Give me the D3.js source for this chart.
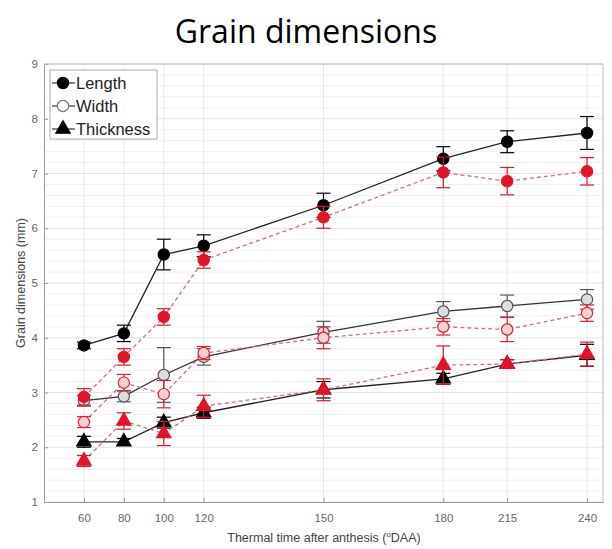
<!DOCTYPE html>
<html>
<head>
<meta charset="utf-8">
<script src="https://cdn.jsdelivr.net/npm/d3@7"></script>
<style>
  body { margin: 0; background: #fff; }
  #chart text { font-family: "Liberation Sans", Arial, sans-serif; }
  #chart .title { font-family: "Open Sans", "Lato", sans-serif; }
</style>
</head>
<body>
<div id="chart"></div>
<script>
//Values
const xLabels = ["60", "80", "100", "120", "150", "180", "215", "240"]
const xPos = [10, 20, 30, 40, 70, 100, 116, 136]
const yTicks = [1, 2, 3, 4, 5, 6, 7, 8, 9]

const lengthBlack = [3.86, 4.08, 5.52, 5.68, 6.42, 7.27, 7.58, 7.74]
const lengthBlackErr = [0.06, 0.15, 0.28, 0.2, 0.22, 0.22, 0.2, 0.3]
const lengthRed = [2.92, 3.65, 4.38, 5.42, 6.2, 7.02, 6.86, 7.04]
const lengthRedErr = [0.15, 0.15, 0.15, 0.15, 0.2, 0.28, 0.25, 0.25]

const widthBlack = [2.85, 2.93, 3.32, 3.65, 4.1, 4.48, 4.58, 4.7]
const widthBlackErr = [0.1, 0.1, 0.5, 0.15, 0.2, 0.18, 0.2, 0.18]
const widthRed = [2.46, 3.18, 2.97, 3.72, 4.0, 4.2, 4.15, 4.45]
const widthRedErr = [0.1, 0.15, 0.25, 0.12, 0.2, 0.15, 0.22, 0.15]

const thickBlack = [2.1, 2.1, 2.45, 2.63, 3.05, 3.25, 3.52, 3.68]
const thickBlackErr = [0.1, 0.06, 0.1, 0.1, 0.15, 0.1, 0.08, 0.2]
const thickRed = [1.75, 2.48, 2.25, 2.75, 3.05, 3.5, 3.52, 3.7]
const thickRedErr = [0.1, 0.15, 0.22, 0.2, 0.2, 0.35, 0.08, 0.22]

const width = 612
const height = 549
const plotLeft = 44, plotRight = 603, plotTop = 64, plotBottom = 502

let svg = d3.select("#chart")
            .append("svg")
            .attr("width", width)
            .attr("height", height)

let xScale = d3.scaleLinear().domain([0, 140]).range([plotLeft, plotRight])
let yScale = d3.scaleLinear().domain([1, 9]).range([plotBottom, plotTop])

//grid
let minor = d3.range(1, 9.01, 0.2).filter(v => Math.abs(v - Math.round(v)) > 0.01)
svg.append("g")
   .selectAll("line")
   .data(minor)
   .enter()
   .append("line")
   .attr("x1", plotLeft).attr("x2", plotRight)
   .attr("y1", d => yScale(d)).attr("y2", d => yScale(d))
   .attr("stroke", "#f0f0f0")
   .attr("stroke-width", 1)

svg.append("g")
   .selectAll("line")
   .data(yTicks)
   .enter()
   .append("line")
   .attr("x1", plotLeft).attr("x2", plotRight)
   .attr("y1", d => yScale(d)).attr("y2", d => yScale(d))
   .attr("stroke", "#e4e4e4")

svg.append("g")
   .selectAll("line")
   .data(xPos)
   .enter()
   .append("line")
   .attr("x1", d => xScale(d)).attr("x2", d => xScale(d))
   .attr("y1", plotTop).attr("y2", plotBottom)
   .attr("stroke", "#e8e8e8")

//axes
let xAxis = d3.axisBottom(xScale)
              .tickValues(xPos)
              .tickFormat((d, i) => xLabels[i])
              .tickSizeOuter(0)
              .tickSizeInner(-4)
              .tickPadding(12)

svg.append("g")
   .attr("transform", `translate(0, ${plotBottom})`)
   .call(xAxis)

let yAxis = d3.axisLeft(yScale)
              .tickValues(yTicks)
              .tickFormat(d3.format("d"))
              .tickSizeOuter(0)
              .tickSizeInner(-4)
              .tickPadding(6)

svg.append("g")
   .attr("transform", `translate(${plotLeft}, 0)`)
   .call(yAxis)

svg.selectAll(".domain").attr("stroke", "#9a9a9a")
svg.selectAll(".tick line").attr("stroke", "#9a9a9a")
svg.selectAll(".tick text").attr("fill", "#666").style("font-size", "11.5px")

svg.append("line")
   .attr("x1", plotLeft).attr("x2", plotRight)
   .attr("y1", plotTop).attr("y2", plotTop)
   .attr("stroke", "#bbb")
svg.append("line")
   .attr("x1", plotRight).attr("x2", plotRight)
   .attr("y1", plotTop).attr("y2", plotBottom)
   .attr("stroke", "#bbb")

//series
let series = [
  { vals: widthBlack, err: widthBlackErr, color: "#555", line: "#333", dash: null, shape: "circle", fill: "#ddd" },
  { vals: thickBlack, err: thickBlackErr, color: "#000", line: "#222", dash: null, shape: "triangle", fill: "#000" },
  { vals: lengthBlack, err: lengthBlackErr, color: "#000", line: "#222", dash: null, shape: "circle", fill: "#000" },
  { vals: widthRed, err: widthRedErr, color: "#e0202e", line: "#cf7078", dash: "4,3", shape: "circle", fill: "#f6d0d4" },
  { vals: thickRed, err: thickRedErr, color: "#e0142a", line: "#cf7078", dash: "4,3", shape: "triangle", fill: "#e0142a" },
  { vals: lengthRed, err: lengthRedErr, color: "#e0142a", line: "#cf7078", dash: "4,3", shape: "circle", fill: "#e0142a" }
]

let line = d3.line()
             .x((d, i) => xScale(xPos[i]))
             .y(d => yScale(d))

let circleSym = d3.symbol().type(d3.symbolCircle).size(100)
let triSym = d3.symbol().type(d3.symbolTriangle).size(90)

series.forEach(function(s) {
  let g = svg.append("g")

  g.append("path")
   .datum(s.vals)
   .attr("d", line)
   .attr("fill", "none")
   .attr("stroke", s.line)
   .attr("stroke-width", 1.3)
   .attr("stroke-dasharray", s.dash)

  let pts = s.vals.map((v, i) => ({ x: xPos[i], y: v, e: s.err[i] }))

  let eb = g.selectAll(".eb")
            .data(pts)
            .enter()
            .append("g")
            .attr("stroke", s.color)
            .attr("stroke-width", 1.2)

  eb.append("line")
    .attr("x1", d => xScale(d.x)).attr("x2", d => xScale(d.x))
    .attr("y1", d => yScale(d.y - d.e)).attr("y2", d => yScale(d.y + d.e))
  eb.append("line")
    .attr("x1", d => xScale(d.x) - 7).attr("x2", d => xScale(d.x) + 7)
    .attr("y1", d => yScale(d.y + d.e)).attr("y2", d => yScale(d.y + d.e))
  eb.append("line")
    .attr("x1", d => xScale(d.x) - 7).attr("x2", d => xScale(d.x) + 7)
    .attr("y1", d => yScale(d.y - d.e)).attr("y2", d => yScale(d.y - d.e))

  g.selectAll(".pt")
   .data(pts)
   .enter()
   .append("path")
   .attr("d", s.shape == "circle" ? circleSym : triSym)
   .attr("transform", d => `translate(${xScale(d.x)}, ${yScale(d.y)})`)
   .attr("fill", s.fill)
   .attr("stroke", s.color)
   .attr("stroke-width", 1.2)
})

//legend
let legendItems = [
  { name: "Length", shape: "circle", fill: "#000", color: "#000" },
  { name: "Width", shape: "circle", fill: "#fff", color: "#777" },
  { name: "Thickness", shape: "triangle", fill: "#000", color: "#000" }
]

let legend = svg.append("g").attr("id", "legend")

legend.append("rect")
      .attr("x", 50).attr("y", 70)
      .attr("width", 107).attr("height", 69)
      .attr("fill", "#fff")
      .attr("stroke", "#aaa")

legendItems.forEach(function(d, i) {
  let y = 83 + i * 23
  legend.append("line")
        .attr("x1", 52).attr("x2", 75)
        .attr("y1", y).attr("y2", y)
        .attr("stroke", "#333").attr("stroke-width", 1.2)
  legend.append("path")
        .attr("d", d.shape == "circle" ? circleSym : triSym)
        .attr("transform", `translate(63, ${y})`)
        .attr("fill", d.fill)
        .attr("stroke", d.color)
        .attr("stroke-width", 1.2)
  legend.append("text")
        .attr("x", 76).attr("y", y + 6)
        .text(d.name)
        .style("font-size", "16.5px")
        .attr("fill", "#222")
})

//labels
svg.append("text")
   .attr("class", "title")
   .attr("x", 306).attr("y", 43)
   .attr("text-anchor", "middle")
   .style("font-size", "32px")
   .attr("fill", "#000")
   .text("Grain dimensions")

let xl = svg.append("text")
            .attr("x", 324).attr("y", 542)
            .attr("text-anchor", "middle")
            .style("font-size", "12.5px")
            .attr("fill", "#444")
xl.append("tspan").text("Thermal time after anthesis (")
xl.append("tspan").attr("dy", -5).style("font-size", "8px").text("o")
xl.append("tspan").attr("dy", 5).text("DAA)")

svg.append("text")
   .attr("transform", "rotate(-90)")
   .attr("x", -283).attr("y", 25)
   .attr("text-anchor", "middle")
   .style("font-size", "12.5px")
   .attr("fill", "#444")
   .text("Grain dimensions (mm)")
</script>
</body>
</html>
